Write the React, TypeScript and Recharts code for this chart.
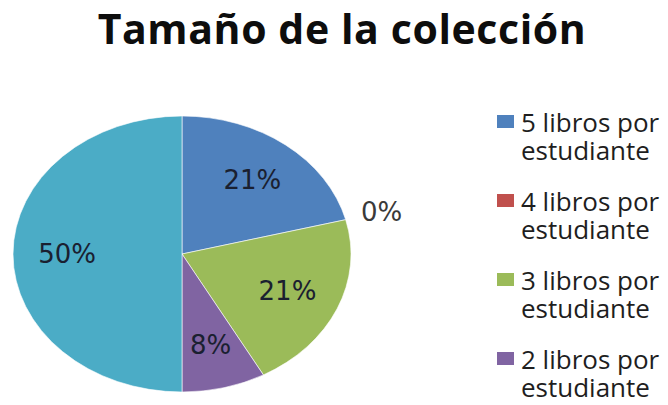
import { PieChart, Pie, Cell, Legend } from 'recharts'

const titulo = 'Tamaño de la colección'
const categorias = [
  '5 libros por estudiante',
  '4 libros por estudiante',
  '3 libros por estudiante',
  '2 libros por estudiante',
  '1 libro por estudiante'
]
const valores = [21, 0, 21, 8, 50]
const colores = ['#4f81bd', '#c0504d', '#9bbb59', '#8064a2', '#4bacc6']
// la leyenda se corta en la imagen: solo se ven las cuatro primeras
const visiblesEnLeyenda = 4

const data = categorias.map((name, i) => ({ name, value: valores[i] }))

const RAD = Math.PI / 180
const ASPECTO = 138 / 169

function SectorElipse(props: any) {
  const { cx, cy, outerRadius, startAngle, endAngle, fill } = props
  if (startAngle === endAngle) return null
  const ry = outerRadius * ASPECTO
  const pt = (a: number) => [cx + outerRadius * Math.cos(-a * RAD), cy + ry * Math.sin(-a * RAD)]
  const [x1, y1] = pt(startAngle)
  const [x2, y2] = pt(endAngle)
  const large = Math.abs(endAngle - startAngle) > 180 ? 1 : 0
  const sweep = startAngle > endAngle ? 1 : 0
  return (
    <path
      d={`M${cx},${cy} L${x1},${y1} A${outerRadius},${ry} 0 ${large} ${sweep} ${x2},${y2} Z`}
      fill={fill}
      stroke="#ffffff"
      strokeWidth={0.6}
    />
  )
}

function Etiqueta(props: any) {
  const { cx, cy, midAngle, outerRadius, value, percent } = props
  const f = value === 0 ? 1.22 : 0.68
  const x = cx + outerRadius * f * Math.cos(-midAngle * RAD)
  const y = cy + outerRadius * ASPECTO * f * Math.sin(-midAngle * RAD)
  return (
    <text
      x={x}
      y={y}
      textAnchor="middle"
      dominantBaseline="central"
      fontFamily="DejaVu Sans"
      fontSize={26}
      fill={value === 0 ? '#3a3a3a' : '#1a2030'}
    >
      {Math.round(percent * 100)}%
    </text>
  )
}

function Leyenda({ payload }: any) {
  const porNombre: Record<string, string> = {}
  ;(payload || []).forEach((it: any) => {
    porNombre[it.value] = it.color
  })
  const items = categorias.slice(0, visiblesEnLeyenda)
  return (
    <div style={{ fontFamily: 'Open Sans', fontSize: 26, lineHeight: '28px', color: '#1e1e1e' }}>
      {items.map((name, i) => (
        <div key={name} style={{ display: 'flex', alignItems: 'flex-start', height: i < items.length - 1 ? 79 : 56 }}>
          <div style={{ width: 17, height: 13, marginTop: 7, background: porNombre[name] || colores[i], flexShrink: 0 }} />
          <div style={{ width: 148, marginLeft: 7 }}>{name}</div>
        </div>
      ))}
    </div>
  )
}

export default function App() {
  return (
    <div style={{ position: 'absolute', left: 0, top: 0, width: 668, height: 405, background: '#fff', overflow: 'hidden' }}>
      <div
        style={{
          position: 'absolute',
          left: 16,
          top: 0,
          width: 652,
          textAlign: 'center',
          fontFamily: 'Open Sans',
          fontWeight: 700,
          fontSize: 41,
          letterSpacing: 0.6,
          lineHeight: '56px',
          color: '#0d0d0d'
        }}
      >
        {titulo}
      </div>
      <PieChart width={668} height={405} margin={{ top: 0, right: 0, bottom: 0, left: 0 }}>
        <Pie
          data={data}
          dataKey="value"
          nameKey="name"
          cx={182}
          cy={254}
          outerRadius={169}
          startAngle={90}
          endAngle={-270}
          shape={SectorElipse}
          inactiveShape={SectorElipse}
          label={Etiqueta}
          labelLine={false}
          isAnimationActive={false}
        >
          {data.map((d, i) => (
            <Cell key={d.name} fill={colores[i]} />
          ))}
        </Pie>
        <Legend
          layout="vertical"
          content={<Leyenda />}
          wrapperStyle={{ position: 'absolute', left: 497, top: 108, width: 172 }}
        />
      </PieChart>
    </div>
  )
}
